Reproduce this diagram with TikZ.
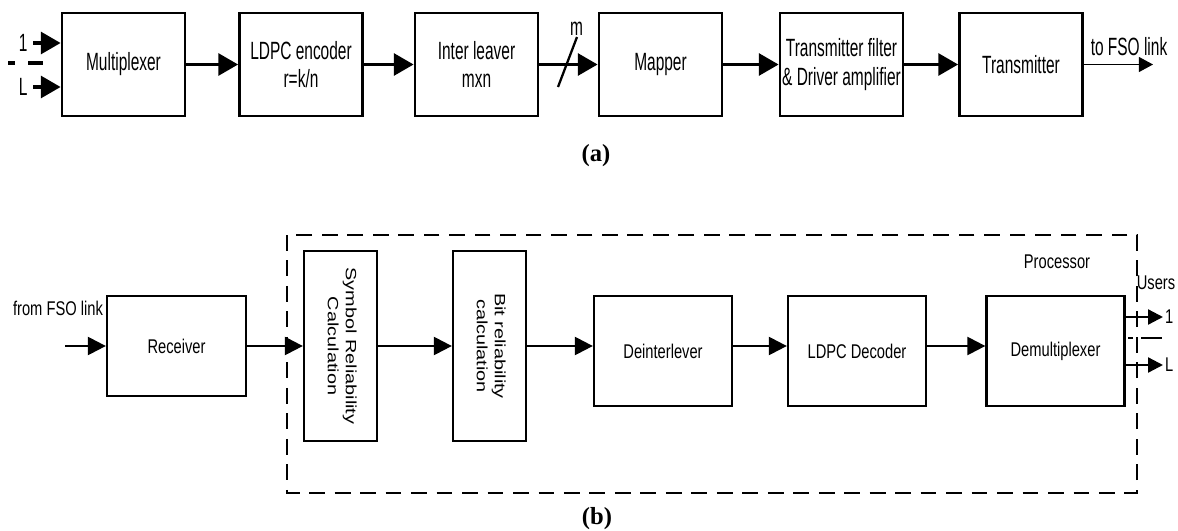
\documentclass[tikz,border=0pt]{standalone}
\usepackage{fontspec}
\usepackage{graphicx}
\setmainfont{Liberation Sans}
\newfontfamily\topfont[FakeStretch=0.62]{Liberation Sans}
\newfontfamily\botfont[FakeStretch=0.74]{Liberation Sans}
\newfontfamily\capfont{Liberation Serif}
\usetikzlibrary{arrows.meta,positioning}

% rotated two-line label for the tall reliability blocks
\newcommand{\vlabel}[1]{\rotatebox{-90}{\scalebox{1}[0.75]{%
  \begin{tabular}{@{}c@{}}#1\end{tabular}}}}

\tikzset{
  txblock/.style={draw, line width=1.6pt, minimum width=2.46cm,
    minimum height=2.06cm, inner sep=0pt, align=center,
    font=\topfont\fontsize{14.2}{16.4}\selectfont},
  rxblock/.style={draw, line width=1.3pt, minimum width=2.76cm,
    minimum height=2.2cm, inner sep=0pt, align=center,
    font=\botfont\fontsize{11.3}{13.6}\selectfont},
  relblock/.style={draw, line width=1.3pt, minimum width=1.46cm,
    minimum height=3.8cm, inner sep=0pt,
    font=\fontsize{11.3}{13.6}\selectfont},
  toptxt/.style={inner sep=1pt, font=\topfont\fontsize{14.2}{16.4}\selectfont},
  bottxt/.style={inner sep=1pt, font=\botfont\fontsize{11.3}{13.6}\selectfont},
  caption/.style={font=\capfont\bfseries\fontsize{14}{16}\selectfont},
  txarrow/.style={line width=1.9pt, -{Triangle[length=11.3pt,width=12.5pt]}},
  rxarrow/.style={line width=1.3pt, -{Triangle[length=10.2pt,width=10.2pt]}},
  userarrow/.style={line width=1.3pt, -{Triangle[length=8.5pt,width=8.5pt]}},
  procframe/.style={line width=1.7pt, dash pattern=on 9pt off 5.5pt},
}

\begin{document}
\begin{tikzpicture}[x=0.02cm, y=-0.02cm]
  % canvas = 1178 x 531 px, one unit = one px
  \useasboundingbox (0,0) rectangle (1178,531);

  % (a) transmitter chain
  \node[txblock] (mux)  at (123.5,64.5) {Multiplexer};
  \node[txblock] (enc)  at (301,64.5)   {LDPC encoder\\r=k/n};
  \node[txblock] (intl) at (476.5,64.5) {Inter leaver\\mxn};
  \node[txblock] (map)  at (660.5,64.5) {Mapper};
  \node[txblock] (txf)  at (841.5,64.5) {Transmitter filter\\\& Driver amplifier};
  \node[txblock] (tx)   at (1021,64.5)  {Transmitter};

  \foreach \a/\b in {mux/enc, enc/intl, intl/map, map/txf, txf/tx}
    \draw[txarrow] (\a) -- (\b);

  % user inputs 1 ... L
  \coordinate (in1) at (33,43);
  \coordinate (inL) at (33,87);
  \node[toptxt, left=2pt of in1] (ione) {1};
  \node[toptxt, left=2pt of inL] (ilast) {L};
  \draw[txarrow] (in1) -- (in1 -| mux.west);
  \draw[txarrow] (inL) -- (inL -| mux.west);
  \draw[line width=1.9pt] (8,63) -- (15,63) (28,63) -- (43,63);

  % m parallel lines
  \draw[line width=1.3pt] (558,87) -- (577,37)
    node[toptxt, above left=-1pt and -5pt] (mlab) {m};

  % output to the link
  \coordinate (fso) at (1153,64.5);
  \draw[line width=0.7pt, -{Triangle[length=8pt,width=8.5pt]}] (tx) -- (fso);
  \node[toptxt] (fsolab) at (1129,47) {to FSO link};

  \node[caption] (capa) at (596,156) {(a)};

  % (b) receiver chain
  \draw[procframe] (287,235) rectangle (1137,493);
  \node[bottxt] (proclab) at (1057,262) {Processor};

  \node[bottxt] (fromlab) at (58,308) {from FSO link};
  \coordinate (rin) at (65,346);
  \node[rxblock, minimum width=2.78cm, minimum height=2cm] (rcv) at (176.5,346) {Receiver};
  \node[relblock] (sym) at (340.5,346) {\vlabel{Symbol Reliability\\Calculation}};
  \node[relblock] (bit) at (489.5,346) {\vlabel{Bit reliability\\calculation}};
  \node[rxblock] (deint) at (663,351)    {Deinterlever};
  \node[rxblock] (ldpc)  at (857,351)    {LDPC Decoder};
  \node[rxblock] (demux) at (1055.5,351) {Demultiplexer};

  \draw[rxarrow] (rin) -- (rcv);
  \draw[rxarrow] (rcv) -- (sym);
  \draw[rxarrow] (sym) -- (bit);
  \draw[rxarrow] (bit) -- (bit -| deint.west);
  \draw[rxarrow] (deint.east |- bit) -- (ldpc.west |- bit);
  \draw[rxarrow] (ldpc.east |- bit) -- (demux.west |- bit);

  % user outputs
  \node[bottxt] (userlab) at (1156,283) {Users};
  \coordinate (u1) at (1163,317);
  \coordinate (uL) at (1163,365);
  \draw[userarrow] (demux.east |- u1) -- (u1);
  \draw[userarrow] (demux.east |- uL) -- (uL);
  \node[bottxt, right=0pt of u1] (uone) {1};
  \node[bottxt, right=0pt of uL] (ulast) {L};
  \draw[line width=1.3pt] (1128,338) -- (1133,338) (1141,338) -- (1162,338);

  \node[caption] (capb) at (597,519) {(b)};
\end{tikzpicture}
\end{document}
